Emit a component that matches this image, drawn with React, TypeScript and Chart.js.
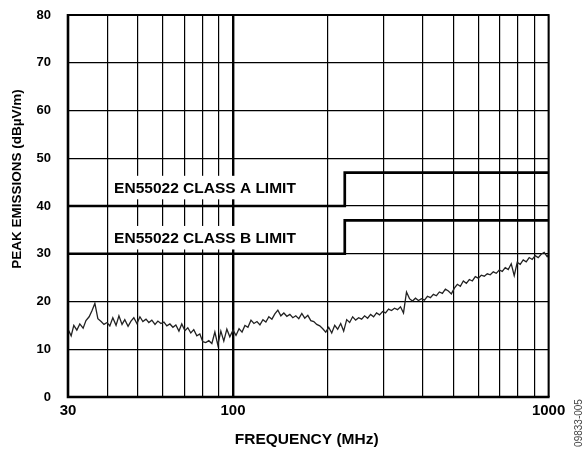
import React, { useEffect, useRef } from "react";
import { Chart, registerables } from "chart.js";

Chart.register(...registerables);

const FONT = "'Liberation Sans', Arial, Helvetica, sans-serif";

// Axis ticks
const xGridTicks = [30, 40, 50, 60, 70, 80, 90, 100, 200, 300, 400, 500, 600, 700, 800, 900, 1000];
const xLabelTicks = [30, 100, 1000];
const yTicks = [0, 10, 20, 30, 40, 50, 60, 70, 80];

// EN55022 limits (MHz, dBµV/m)
const limitAFreqs = [30, 226, 226, 1000];
const limitAVals = [40, 40, 47, 47];
const limitBFreqs = [30, 226, 226, 1000];
const limitBVals = [30, 30, 37, 37];
const limitALabel = "EN55022 CLASS A LIMIT";
const limitBLabel = "EN55022 CLASS B LIMIT";

// Measured peak emissions, 30 MHz to 100 MHz
const freqLow = [
  30.0, 30.7, 31.3, 32.0, 32.7, 33.5, 34.2, 35.0, 35.7, 36.5, 37.3, 38.2, 39.0, 39.9, 40.7, 41.6,
  42.6, 43.5, 44.5, 45.4, 46.5, 47.5, 48.5, 49.6, 50.7, 51.8, 53.0, 54.1, 55.3, 56.6, 57.8, 59.1,
  60.4, 61.7, 63.1, 64.5, 65.9, 67.4, 68.8, 70.4, 71.9, 73.5, 75.1, 76.8, 78.5, 80.2, 82.0, 83.8,
  85.7, 87.6, 89.5, 91.5, 93.5, 95.6, 97.7, 100,
];
const emissionLow = [
  14.2, 12.8, 15.0, 14.0, 15.3, 14.4, 16.0, 16.8, 18.0, 19.6, 16.4, 15.8, 15.2, 15.6, 14.9, 16.6,
  15.0, 17.0, 15.2, 16.2, 14.8, 15.9, 16.6, 15.4, 16.8, 15.8, 16.3, 15.6, 16.1, 15.2, 15.9, 15.4,
  15.7, 14.9, 15.3, 14.6, 15.1, 13.8, 15.3, 13.9, 14.5, 13.4, 14.1, 12.8, 13.2, 11.6, 11.4, 11.8,
  11.2, 13.6, 10.9, 13.8, 11.7, 14.2, 12.6, 14.0,
];

// Measured peak emissions, 100 MHz to 1000 MHz
const freqHigh = [
  102.2, 104.5, 106.8, 109.1, 111.5, 114.0, 116.5, 119.1, 121.7, 124.4, 127.1, 129.9, 132.8, 135.7,
  138.7, 141.8, 144.9, 148.1, 151.4, 154.7, 158.1, 161.6, 165.2, 168.8, 172.6, 176.4, 180.3, 184.2,
  188.3, 192.5, 196.7, 201.0, 205.5, 210.0, 214.6, 219.4, 224.2, 229.2, 234.2, 239.4, 244.7, 250.1,
  255.6, 261.2, 267.0, 272.9, 278.9, 285.0, 291.3, 297.8, 304.3, 311.1, 317.9, 324.9, 332.1, 339.4,
  346.9, 354.6, 362.4, 370.4, 378.6, 386.9, 395.5, 404.2, 413.1, 422.2, 431.5, 441.1, 450.8, 460.7,
  470.9, 481.3, 491.9, 502.8, 513.9, 525.2, 536.8, 548.7, 560.8, 573.2, 585.8, 598.8, 612.0, 625.5,
  639.3, 653.4, 667.9, 682.6, 697.7, 713.1, 728.8, 744.9, 761.4, 778.2, 795.4, 812.9, 830.9, 849.2,
  868.0, 887.2, 906.8, 926.8, 947.3, 968.2, 989.6, 1000,
];
const emissionHigh = [
  12.9, 14.3, 13.6, 15.0, 14.6, 16.1, 15.4, 15.8, 15.1, 16.2, 15.7, 16.8, 16.3, 17.4,
  18.2, 17.0, 17.6, 16.9, 17.3, 16.6, 17.0, 16.4, 17.5, 16.5, 17.1, 16.0, 15.8, 15.2,
  14.9, 14.3, 13.6, 14.6, 13.4, 15.0, 14.2, 15.4, 13.8, 16.2, 15.6, 16.8, 16.1, 16.6,
  16.3, 17.0, 16.5, 17.3, 16.8, 17.6, 17.2, 17.9, 17.6, 18.4, 18.1, 18.6, 18.3, 18.9,
  17.6, 22.0, 20.6, 20.1, 20.7, 20.2, 20.6, 20.3, 21.1, 20.8, 21.5, 21.2, 22.0, 21.7,
  22.6, 22.2, 21.6, 22.8, 23.6, 23.2, 24.3, 23.8, 24.6, 24.3, 25.2, 24.9, 25.5, 25.3,
  25.8, 25.6, 26.2, 25.9, 26.6, 26.3, 27.1, 26.7, 27.9, 25.4, 28.2, 27.8, 28.7, 28.3,
  29.2, 28.8, 29.6, 29.2, 29.9, 30.3, 29.4, 29.8,
];

const xTitle = "FREQUENCY (MHz)";
const yTitle = "PEAK EMISSIONS (dBµV/m)";
const figureId = "09833-005";

const toPoints = (xs: number[], ys: number[]) => xs.map((x, i) => ({ x, y: ys[i] }));

const overlayPlugin = {
  id: "overlay",
  beforeDatasetsDraw(chart: any) {
    const { ctx, scales } = chart;
    const x = scales.x;
    const y = scales.y;
    ctx.save();
    ctx.font = `bold 15.5px ${FONT}`;
    const px = x.getPixelForValue(42);
    [
      { t: limitALabel, v: 43.6 },
      { t: limitBLabel, v: 33.1 },
    ].forEach(({ t, v }) => {
      const w = ctx.measureText(t).width;
      const py = y.getPixelForValue(v);
      ctx.fillStyle = "#ffffff";
      ctx.fillRect(px - 4, py - 13, w + 8, 23.5);
    });
    ctx.restore();
  },
  afterDatasetsDraw(chart: any) {
    const { ctx, scales, chartArea } = chart;
    const x = scales.x;
    const y = scales.y;
    ctx.save();
    // limit labels
    ctx.font = `bold 15.5px ${FONT}`;
    ctx.fillStyle = "#000";
    ctx.textAlign = "left";
    ctx.textBaseline = "middle";
    const px = x.getPixelForValue(42);
    ctx.fillText(limitALabel, px, y.getPixelForValue(43.6));
    ctx.fillText(limitBLabel, px, y.getPixelForValue(33.1));

    // frame
    const { left, right, top, bottom } = chartArea;
    ctx.strokeStyle = "#000";
    ctx.lineWidth = 2;
    ctx.beginPath();
    ctx.moveTo(left, top);
    ctx.lineTo(right, top);
    ctx.lineTo(right, bottom);
    ctx.stroke();
    ctx.lineWidth = 2.6;
    ctx.beginPath();
    ctx.moveTo(left, top - 1);
    ctx.lineTo(left, bottom);
    ctx.lineTo(right + 1, bottom);
    ctx.stroke();

    // axis titles
    ctx.textAlign = "center";
    ctx.textBaseline = "middle";
    ctx.font = `bold 15.5px ${FONT}`;
    ctx.fillText(xTitle, 306.7, 439.5);

    ctx.save();
    ctx.translate(17.7, 179);
    ctx.rotate(-Math.PI / 2);
    ctx.font = `bold 13.5px ${FONT}`;
    ctx.fillText(yTitle, 0, 0);
    ctx.restore();

    ctx.save();
    ctx.translate(579, 423);
    ctx.rotate(-Math.PI / 2);
    ctx.font = `10px ${FONT}`;
    ctx.fillStyle = "#444";
    ctx.fillText(figureId, 0, 0);
    ctx.restore();

    ctx.restore();
  },
};

export default function App() {
  const canvasRef = useRef<HTMLCanvasElement | null>(null);

  useEffect(() => {
    if (!canvasRef.current) return;
    const chart = new Chart(canvasRef.current, {
      type: "line",
      data: {
        datasets: [
          {
            label: "Emissions",
            data: toPoints([...freqLow, ...freqHigh], [...emissionLow, ...emissionHigh]),
            borderColor: "#222",
            borderWidth: 1.3,
            pointRadius: 0,
            tension: 0,
            fill: false,
          },
          {
            label: limitALabel,
            data: toPoints(limitAFreqs, limitAVals),
            borderColor: "#000",
            borderWidth: 2.7,
            pointRadius: 0,
            tension: 0,
            fill: false,
          },
          {
            label: limitBLabel,
            data: toPoints(limitBFreqs, limitBVals),
            borderColor: "#000",
            borderWidth: 2.7,
            pointRadius: 0,
            tension: 0,
            fill: false,
          },
        ],
      },
      options: {
        animation: false,
        responsive: false,
        maintainAspectRatio: false,
        layout: { padding: { left: 0, top: 15, right: 39.4, bottom: 0 } },
        plugins: {
          legend: { display: false },
          tooltip: { enabled: false },
          title: { display: false },
        },
        scales: {
          x: {
            type: "logarithmic",
            min: 30,
            max: 1000,
            afterBuildTicks: (scale: any) => {
              scale.ticks = xGridTicks.map((v) => ({ value: v }));
            },
            afterFit: (scale: any) => {
              scale.height = 56;
              scale.paddingLeft = 0;
              scale.paddingRight = 0;
            },
            border: { display: false },
            grid: {
              color: "#000",
              lineWidth: (c: any) => (c.tick && c.tick.value === 100 ? 2.4 : 1.2),
              drawTicks: false,
            },
            ticks: {
              autoSkip: false,
              maxRotation: 0,
              minRotation: 0,
              padding: 5,
              color: "#000",
              font: { family: FONT, size: 15, weight: "bold" },
              callback: (v: any) => (xLabelTicks.includes(Number(v)) ? String(v) : ""),
            },
          },
          y: {
            type: "linear",
            min: 0,
            max: 80,
            afterBuildTicks: (scale: any) => {
              scale.ticks = yTicks.map((v) => ({ value: v }));
            },
            afterFit: (scale: any) => {
              scale.width = 68;
              scale.paddingTop = 0;
              scale.paddingBottom = 0;
            },
            border: { display: false },
            grid: {
              color: "#000",
              lineWidth: 1.2,
              drawTicks: false,
            },
            ticks: {
              padding: 17,
              color: "#000",
              font: { family: FONT, size: 13, weight: "bold" },
            },
          },
        },
      },
      plugins: [overlayPlugin],
    });
    return () => chart.destroy();
  }, []);

  return (
    <div style={{ position: "absolute", left: 0, top: 0, width: 588, height: 453, background: "#fff" }}>
      <canvas ref={canvasRef} width={588} height={453} style={{ display: "block" }} />
    </div>
  );
}
